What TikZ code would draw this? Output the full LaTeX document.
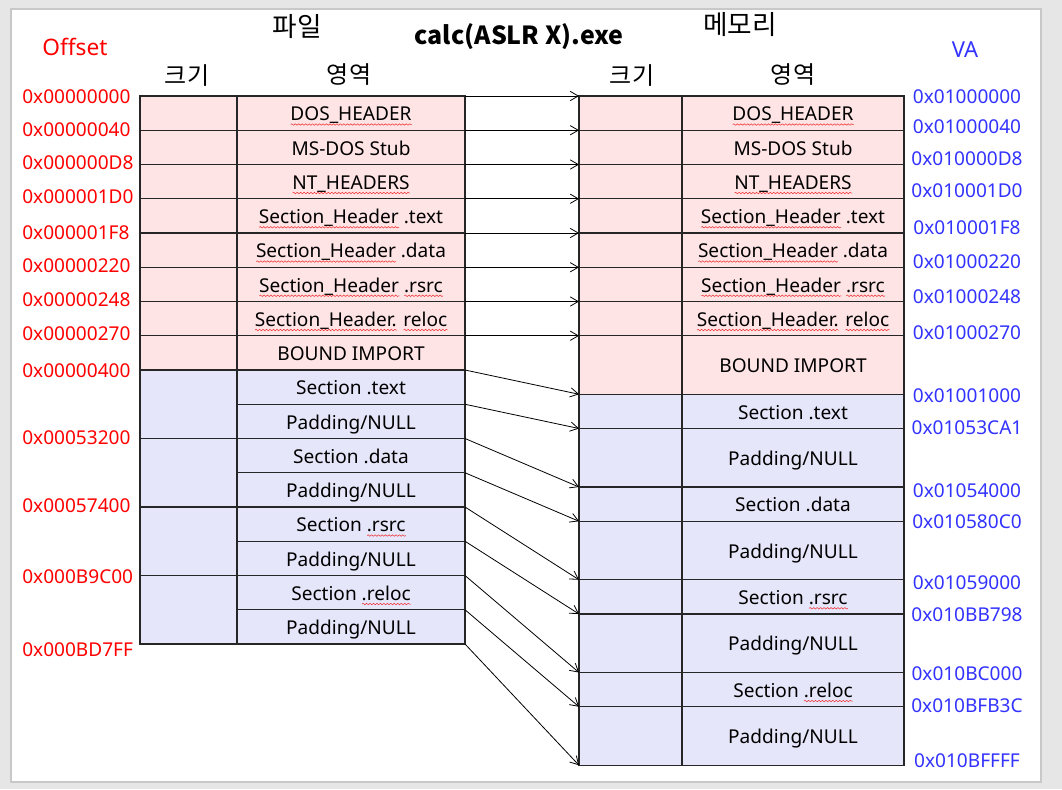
\documentclass[tikz,border=0pt]{standalone}
\usepackage{fontspec}
\setmainfont{Noto Sans}
\newfontfamily\krfont{Noto Sans CJK KR}
\usetikzlibrary{arrows.meta,decorations.pathmorphing}
\definecolor{pinkc}{RGB}{255,228,230}
\definecolor{bluec}{RGB}{230,230,250}
\definecolor{bgc}{RGB}{230,230,230}
\definecolor{slideedge}{RGB}{200,200,200}
\definecolor{offred}{RGB}{255,0,0}
\definecolor{vablue}{RGB}{51,51,255}
\definecolor{bordc}{RGB}{38,38,38}
\definecolor{squig}{RGB}{240,50,50}
\newlength\sqlen
\newsavebox\sqbox
\newcommand\sq[1]{\sbox\sqbox{#1}\setlength\sqlen{\wd\sqbox}%
  \rlap{\tikz[baseline=0pt]\draw[squig, line width=0.4pt, decorate,
    decoration={snake, amplitude=0.55pt, segment length=2.6pt}]
    (0pt,-2.8pt) -- (\sqlen,-2.8pt);}#1}
\newcommand\pxl[1]{#1*0.75pt}
\newcommand\pn{Padding/NULL}
\newcommand\sh{\sq{Section\_Header}}
\tikzset{
  cell/.style={draw=bordc, line width=1pt, inner sep=0pt, outer sep=0pt, anchor=north west,
    text height=11.5pt, text depth=0pt, font=\fontsize{14.3}{16}\selectfont},
  pk/.style={cell, fill=pinkc},
  bl/.style={cell, fill=bluec},
  offl/.style={text=offred, anchor=west, inner sep=0pt, font=\fontsize{14.3}{16}\selectfont},
  val/.style={text=vablue, inner sep=0pt, font=\fontsize{14.3}{16}\selectfont},
  map/.style={-{Straight Barb[length=6pt,width=7pt]}, line width=0.6pt, black},
  hdr/.style={inner sep=0pt, font=\krfont\fontsize{18}{20}\selectfont},
  bighdr/.style={inner sep=0pt, font=\krfont\fontsize{20}{22}\selectfont},
}
\begin{document}
\begin{tikzpicture}[x=0.75pt,y=-0.75pt]
\useasboundingbox (0,0) rectangle (1062,789);
\fill[bgc] (0,0) rectangle (1062,789);
\draw[slideedge, fill=white, line width=1pt] (11,9) rectangle (1041,782);

% headers
\node[bighdr] (hfile) at (297,27) {파일};
\node[inner sep=0pt, font=\krfont\bfseries\fontsize{18.7}{21}\selectfont] (title) at (519,37) {calc(ASLR X).exe};
\node[bighdr] (hmem) at (740,25) {메모리};
\node[hdr] (lsz) at (187,76) {크기};
\node[hdr] (lrg) at (349,75) {영역};
\node[hdr] (rsz) at (632,76) {크기};
\node[hdr] (rrg) at (793,75) {영역};
\node[inner sep=0pt, text=offred, font=\fontsize{17}{19}\selectfont] (hoff) at (75,47) {Offset};
\node[inner sep=0pt, text=vablue, font=\fontsize{16.5}{18}\selectfont] (hva) at (965,50) {VA};

% left table (file)
\foreach \i/\y/\t in {0/96/\sq{DOS\_HEADER}, 1/130.25/MS-DOS Stub, 2/164.5/\sq{NT\_HEADERS},
  3/198.75/\sh{} .text, 4/233/\sh{} .data, 5/267.25/\sh{} \sq{.rsrc},
  6/301.5/\sq{Section\_Header.} \sq{reloc}, 7/335.75/BOUND IMPORT}{
  \node[pk, minimum width=\pxl{97}, minimum height=\pxl{34.25}] (LS\i) at (140,\y) {};
  \node[pk, minimum width=\pxl{228}, minimum height=\pxl{34.25}] (LR\i) at (237,\y) {\t};
}
\foreach \k/\y in {0/370, 1/438.5, 2/507, 3/575.5}{
  \node[bl, minimum width=\pxl{97}, minimum height=\pxl{68.5}] (LB\k) at (140,\y) {};
}
\foreach \i/\y/\t in {8/370/Section .text, 9/404.25/\pn, 10/438.5/Section .data, 11/472.75/\pn,
  12/507/Section \sq{.rsrc}, 13/541.25/\pn, 14/575.5/Section \sq{.reloc}, 15/609.75/\pn}{
  \node[bl, minimum width=\pxl{228}, minimum height=\pxl{34.25}] (LR\i) at (237,\y) {\t};
}

% right table (memory)
\foreach \i/\y/\h/\t/\f in {0/96/34.25/\sq{DOS\_HEADER}/pk, 1/130.25/34.25/MS-DOS Stub/pk,
  2/164.5/34.25/\sq{NT\_HEADERS}/pk, 3/198.75/34.25/\sh{} .text/pk, 4/233/34.25/\sh{} .data/pk,
  5/267.25/34.25/\sh{} \sq{.rsrc}/pk, 6/301.5/34.25/\sq{Section\_Header.} \sq{reloc}/pk,
  7/335.75/58.5/BOUND IMPORT/pk,
  8/394.25/34.25/Section .text/bl, 9/428.5/58.5/\pn/bl, 10/487/34.25/Section .data/bl,
  11/521.25/58.5/\pn/bl, 12/579.75/34.25/Section \sq{.rsrc}/bl, 13/614/58.5/\pn/bl,
  14/672.5/34.25/Section \sq{.reloc}/bl, 15/706.75/58.5/\pn/bl}{
  \node[\f, minimum width=\pxl{103}, minimum height=\pxl{\h}] (RS\i) at (579,\y) {};
  \node[\f, minimum width=\pxl{222}, minimum height=\pxl{\h}] (RR\i) at (682,\y) {\t};
}

% mapping arrows
\foreach \i in {0,...,15}{
  \draw[map] (LR\i.north east) -- (RS\i.north west);
}
\draw[map] (LR15.south east) -- (RS15.south west);

% file offsets
\foreach \y/\t in {97/0x00000000, 130/0x00000040, 163/0x000000D8, 197/0x000001D0,
  233/0x000001F8, 266/0x00000220, 300/0x00000248, 334/0x00000270, 371/0x00000400,
  438/0x00053200, 506/0x00057400, 577/0x000B9C00, 650/0x000BD7FF}{
  \node[offl] (o\t) at (22,\y) {\t};
}
% virtual addresses
\foreach \y/\t in {97/0x01000000, 127/0x01000040, 159/0x010000D8, 191/0x010001D0,
  228/0x010001F8, 262/0x01000220, 297/0x01000248, 333/0x01000270, 396/0x01001000,
  428/0x01053CA1, 491/0x01054000, 522/0x010580C0, 583/0x01059000, 615/0x010BB798,
  674/0x010BC000, 706/0x010BFB3C, 761/0x010BFFFF}{
  \node[val] (v\t) at (967,\y) {\t};
}
\end{tikzpicture}
\end{document}
